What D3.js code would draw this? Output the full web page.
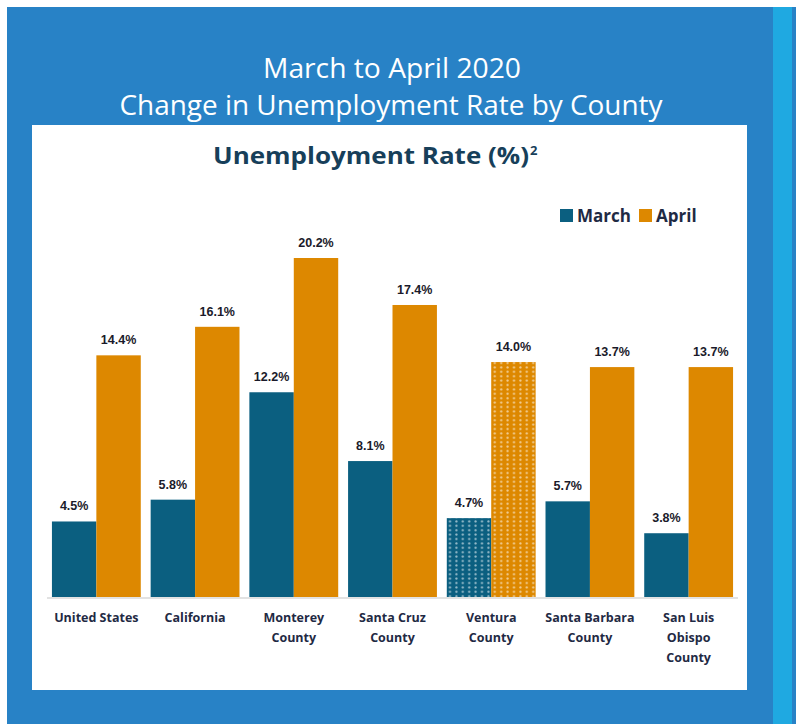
<!DOCTYPE html>
<meta charset="utf-8">
<head>
<style>
body { margin: 0; background: #fff; }
svg { display: block; }
.cat { font: bold 12.5px "Open Sans", sans-serif; fill: #1f2a44; }
.val { font: bold 12.5px "Liberation Sans", Arial, sans-serif; fill: #1a1a2a; }
.leg { font: bold 17px "Open Sans", sans-serif; fill: #1f2a44; }
</style>
</head>
<body>
<script src="https://cdn.jsdelivr.net/npm/d3@7"></script>
<svg id="chart" width="796" height="724"></svg>
<script>

var categories = [
  ["United States"],
  ["California"],
  ["Monterey", "County"],
  ["Santa Cruz", "County"],
  ["Ventura", "County"],
  ["Santa Barbara", "County"],
  ["San Luis", "Obispo", "County"]
];
var march = [4.5, 5.8, 12.2, 8.1, 4.7, 5.7, 3.8];
var april = [14.4, 16.1, 20.2, 17.4, 14.0, 13.7, 13.7];
var seriesNames = ["March", "April"];
var patterned = "Ventura";   // this county's bars are dotted

var colors = {March: "#0b5f80", April: "#dd8800"};

var svg = d3.select("#chart");

// page background
svg.append("rect").attr("x", 7).attr("y", 7).attr("width", 789).attr("height", 717).attr("fill", "#2882c6");
svg.append("rect").attr("x", 773).attr("y", 7).attr("width", 19).attr("height", 717).attr("fill", "#1fa9e1");
svg.append("rect").attr("x", 32).attr("y", 125).attr("width", 715).attr("height", 565).attr("fill", "#fff");

// titles
svg.append("text")
    .attr("x", 392).attr("y", 78)
    .attr("text-anchor", "middle")
    .attr("textLength", 258).attr("lengthAdjust", "spacingAndGlyphs")
    .style("font", "28px 'Open Sans', sans-serif").attr("fill", "#fff")
    .text("March to April 2020");
svg.append("text")
    .attr("x", 391).attr("y", 115)
    .attr("text-anchor", "middle")
    .attr("textLength", 543).attr("lengthAdjust", "spacingAndGlyphs")
    .style("font", "28px 'Open Sans', sans-serif").attr("fill", "#fff")
    .text("Change in Unemployment Rate by County");

var sub = svg.append("text")
    .attr("x", 213).attr("y", 164)
    .style("font", "bold 23px 'Open Sans', sans-serif").attr("fill", "#173f5a");
sub.append("tspan").attr("textLength", 316).attr("lengthAdjust", "spacingAndGlyphs").text("Unemployment Rate (%)");
sub.append("tspan").attr("dx", 1).attr("dy", -9).style("font-size", "13px").text("2");

// patterns for the dotted bars
var defs = svg.append("defs");
seriesNames.forEach(function(s) {
  var p = defs.append("pattern")
      .attr("id", "dots-" + s)
      .attr("patternUnits", "userSpaceOnUse")
      .attr("width", 6.4).attr("height", 4.4);
  p.append("rect").attr("width", 6.4).attr("height", 4.4).attr("fill", colors[s]);
  p.append("circle").attr("cx", 3.2).attr("cy", 2.2).attr("r", 1.1)
      .attr("fill", "#fff").attr("fill-opacity", 0.6);
});

var names = categories.map(function(c) { return c.join(" "); });

var x0 = d3.scaleBand()
    .domain(names)
    .range([47, 738])
    .paddingInner(0.1)
    .paddingOuter(0.05);

var x1 = d3.scaleBand()
    .domain(seriesNames)
    .range([0, x0.bandwidth()]);

var y = d3.scaleLinear()
    .domain([0, d3.max(april)])
    .range([597, 258]);

var data = names.map(function(n, i) {
  return {name: n, lines: categories[i], values: [
    {key: "March", value: march[i]},
    {key: "April", value: april[i]}
  ]};
});

var groups = svg.selectAll(".group")
  .data(data)
  .enter().append("g")
    .attr("class", "group")
    .attr("transform", function(d) { return "translate(" + x0(d.name) + ",0)"; });

groups.selectAll("rect")
  .data(function(d) { return d.values.map(function(v) { return {key: v.key, value: v.value, name: d.name}; }); })
  .enter().append("rect")
    .attr("x", function(d) { return x1(d.key); })
    .attr("y", function(d) { return y(d.value); })
    .attr("width", x1.bandwidth())
    .attr("height", function(d) { return y(0) - y(d.value); })
    .attr("fill", function(d) {
      return d.name.indexOf(patterned) === 0 ? "url(#dots-" + d.key + ")" : colors[d.key];
    });

groups.selectAll(".val")
  .data(function(d) { return d.values; })
  .enter().append("text")
    .attr("class", "val")
    .attr("x", function(d) { return x1(d.key) + x1.bandwidth() / 2; })
    .attr("y", function(d) { return y(d.value) - 11; })
    .attr("text-anchor", "middle")
    .text(function(d) { return d.value.toFixed(1) + "%"; });

// baseline
svg.append("line")
    .attr("x1", 47).attr("x2", 738)
    .attr("y1", y(0) + 1).attr("y2", y(0) + 1)
    .attr("stroke", "#d9d9d9").attr("stroke-width", 1.5);

// category labels
groups.each(function(d) {
  var t = d3.select(this).append("text")
      .attr("class", "cat")
      .attr("text-anchor", "middle");
  d.lines.forEach(function(line, i) {
    t.append("tspan")
        .attr("x", x0.bandwidth() / 2)
        .attr("y", 622 + i * 20)
        .text(line);
  });
});

// legend
var legend = svg.selectAll(".legend")
  .data(seriesNames)
  .enter().append("g")
    .attr("class", "legend")
    .attr("transform", function(d, i) { return "translate(" + (560 + i * 79) + ",209)"; });

legend.append("rect")
    .attr("width", 13).attr("height", 13)
    .attr("fill", function(d) { return colors[d]; });

legend.append("text")
    .attr("class", "leg")
    .attr("x", 17).attr("y", 13)
    .text(function(d) { return d; });

</script>
</body>
</html>
